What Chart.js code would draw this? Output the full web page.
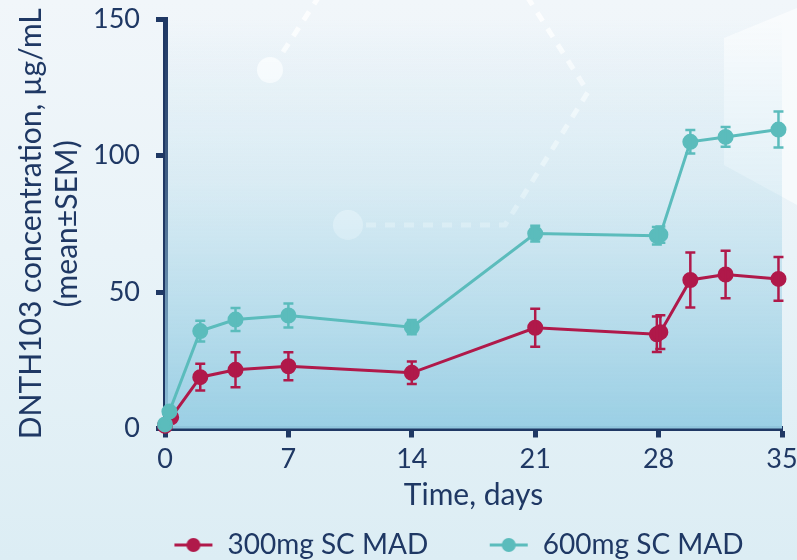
<!DOCTYPE html>
<html>
<head>
<meta charset="utf-8">
<script src="https://cdn.jsdelivr.net/npm/chart.js@4"></script>
<style>
  html, body { margin: 0; padding: 0; }
  body {
    width: 797px; height: 560px; overflow: hidden;
    background: linear-gradient(180deg, #f1f6fa 0%, #e9f3f8 45%, #dcedf4 100%);
  }
  canvas { display: block; }
</style>
</head>
<body>
<canvas id="pkChart" width="797" height="560"></canvas>
<script>
const NAVY = '#1f3864';
const RED = '#b0194a';
const TEAL = '#5bbcbc';
const FONT = 'Lato, "Open Sans", sans-serif';

// 300mg SC MAD
const days300 = [0, 0.35, 2, 4, 7, 14, 21, 27.9, 28.1, 29.8, 31.8, 34.8];
const conc300 = [1, 4.1, 18.8, 21.5, 22.8, 20.4, 36.9, 34.5, 35.3, 54.4, 56.4, 54.8];
const sem300 = [0, 0, 4.9, 6.4, 5.1, 4.1, 7.0, 6.5, 6.2, 10.1, 8.7, 8.0];

// 600mg SC MAD
const days600 = [0, 0.25, 2, 4, 7, 14, 21, 27.9, 28.1, 29.8, 31.8, 34.8];
const conc600 = [1.5, 6.2, 35.7, 39.9, 41.4, 37.1, 71.4, 70.6, 71.0, 105.0, 106.8, 109.5];
const sem600 = [0, 0, 3.8, 4.2, 4.4, 2.6, 2.9, 3.2, 3.0, 4.3, 3.6, 6.6];

const xTicks = [0, 7, 14, 21, 28, 35];
const yTicks = [0, 50, 100, 150];

function toPoints(xs, ys, errs) {
    return xs.map((x, i) => ({ x: x, y: ys[i], err: errs[i] }));
}

// legend marker: short line with a dot, shifted right inside its box
function legendIcon(color) {
    const c = document.createElement('canvas');
    c.width = 84; c.height = 16;
    const g = c.getContext('2d');
    g.strokeStyle = color; g.lineWidth = 3;
    g.beginPath(); g.moveTo(34, 8); g.lineTo(72, 8); g.stroke();
    g.fillStyle = color;
    g.beginPath(); g.arc(53, 8, 7, 0, Math.PI * 2); g.fill();
    return c;
}

// background decoration + plot area gradient
const backdrop = {
    id: 'backdrop',
    beforeDraw(chart) {
        const ctx = chart.ctx;
        ctx.save();
        ctx.fillStyle = 'rgba(255,255,255,0.55)';
        ctx.beginPath();
        ctx.moveTo(724, 38); ctx.lineTo(797, 8); ctx.lineTo(797, 205); ctx.lineTo(724, 165);
        ctx.closePath(); ctx.fill();
        ctx.strokeStyle = 'rgba(255,255,255,0.8)';
        ctx.lineWidth = 5;
        ctx.setLineDash([10, 9]);
        ctx.beginPath();
        ctx.moveTo(366, 225); ctx.lineTo(505, 225); ctx.lineTo(588, 92); ctx.lineTo(528, -2);
        ctx.stroke();
        ctx.beginPath();
        ctx.moveTo(283, 52); ctx.lineTo(318, -2);
        ctx.stroke();
        ctx.setLineDash([]);
        ctx.fillStyle = 'rgba(255,255,255,0.85)';
        ctx.beginPath(); ctx.arc(270, 70, 13, 0, Math.PI * 2); ctx.fill();
        ctx.beginPath(); ctx.arc(348, 225, 15, 0, Math.PI * 2); ctx.fill();
        ctx.restore();
    },
    beforeDatasetsDraw(chart) {
        const { ctx, chartArea: a } = chart;
        const grad = ctx.createLinearGradient(0, a.top, 0, a.bottom);
        grad.addColorStop(0, 'rgba(170,214,232,0)');
        grad.addColorStop(0.4, 'rgba(165,212,231,0.25)');
        grad.addColorStop(1, 'rgba(150,205,227,0.95)');
        ctx.save();
        ctx.fillStyle = grad;
        ctx.fillRect(a.left, a.top, a.right - a.left, a.bottom - a.top);
        ctx.restore();
    }
};

// SEM error bars, drawn right after each dataset
const errorBars = {
    id: 'errorBars',
    afterDatasetDraw(chart, args) {
        const ds = chart.data.datasets[args.index];
        const yScale = chart.scales.y;
        const ctx = chart.ctx;
        ctx.save();
        ctx.strokeStyle = ds.borderColor;
        ctx.lineWidth = 2.5;
        args.meta.data.forEach((pt, i) => {
            const e = ds.data[i].err;
            if (!e) return;
            const v = ds.data[i].y;
            const top = yScale.getPixelForValue(v + e);
            const bot = yScale.getPixelForValue(v - e);
            ctx.beginPath();
            ctx.moveTo(pt.x, top); ctx.lineTo(pt.x, bot);
            ctx.moveTo(pt.x - 5, top); ctx.lineTo(pt.x + 5, top);
            ctx.moveTo(pt.x - 5, bot); ctx.lineTo(pt.x + 5, bot);
            ctx.stroke();
        });
        ctx.restore();
    }
};

const ctx = document.getElementById('pkChart').getContext('2d');
new Chart(ctx, {
    type: 'line',
    data: {
        datasets: [{
            label: '600mg SC MAD',
            data: toPoints(days600, conc600, sem600),
            borderColor: TEAL,
            backgroundColor: TEAL,
            borderWidth: 3,
            pointRadius: 6.5,
            pointHoverRadius: 6.5,
            tension: 0
        }, {
            label: '300mg SC MAD',
            data: toPoints(days300, conc300, sem300),
            borderColor: RED,
            backgroundColor: RED,
            borderWidth: 3,
            pointRadius: 6.5,
            pointHoverRadius: 6.5,
            tension: 0
        }]
    },
    options: {
        responsive: false,
        animation: false,
        clip: false,
        layout: { padding: { left: 10, right: 15, top: 19, bottom: -9 } },
        plugins: {
            tooltip: { enabled: false },
            legend: {
                position: 'bottom',
                align: 'end',
                labels: {
                    color: NAVY,
                    font: { family: FONT, size: 28 },
                    usePointStyle: true,
                    pointStyleWidth: 62,
                    boxHeight: 16,
                    padding: 38.5,
                    generateLabels(chart) {
                        return chart.data.datasets.map((d, i) => ({
                            text: d.label,
                            datasetIndex: i,
                            pointStyle: legendIcon(d.borderColor),
                            fillStyle: d.borderColor,
                            strokeStyle: d.borderColor,
                            lineWidth: 0,
                            fontColor: NAVY,
                            hidden: false
                        })).reverse();
                    }
                }
            }
        },
        scales: {
            x: {
                type: 'linear',
                min: 0,
                max: 35,
                afterBuildTicks(scale) { scale.ticks = xTicks.map(v => ({ value: v })); },
                afterFit(scale) {
                    scale.height = 64;
                    scale.paddingLeft = 0;
                    scale.paddingRight = 0;
                },
                border: { display: true, color: NAVY, width: 5 },
                grid: { drawOnChartArea: false, drawTicks: true, tickLength: 9, tickWidth: 5, tickColor: NAVY },
                ticks: { color: NAVY, font: { family: FONT, size: 27 }, padding: 6, maxRotation: 0 },
                title: {
                    display: true,
                    text: 'Time, days',
                    color: NAVY,
                    font: { family: FONT, size: 30, lineHeight: 1.2 },
                    padding: { top: 0, bottom: -21 }
                }
            },
            y: {
                min: 0,
                max: 150,
                afterBuildTicks(scale) { scale.ticks = yTicks.map(v => ({ value: v })); },
                afterFit(scale) {
                    scale.width = 155;
                    scale.paddingTop = 0;
                    scale.paddingBottom = 0;
                },
                border: { display: true, color: NAVY, width: 5 },
                grid: { drawOnChartArea: false, drawTicks: true, tickLength: 9, tickWidth: 5, tickColor: NAVY },
                ticks: { color: NAVY, font: { family: FONT, size: 27 }, padding: 16 },
                title: {
                    display: true,
                    text: ['DNTH103 concentration, µg/mL', '(mean±SEM)'],
                    color: NAVY,
                    font: { family: FONT, size: 30, lineHeight: 1.2 },
                    padding: { top: 3, bottom: 0 }
                }
            }
        }
    },
    plugins: [backdrop, errorBars]
});
</script>
</body>
</html>
